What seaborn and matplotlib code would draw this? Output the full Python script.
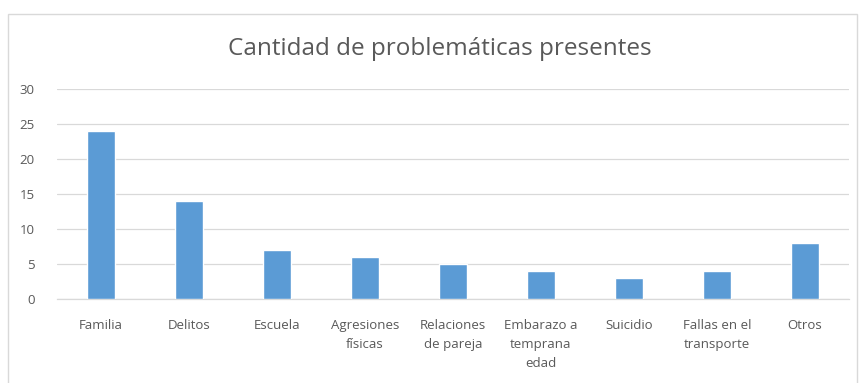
import matplotlib
matplotlib.use("Agg")
import matplotlib.pyplot as plt
import seaborn as sns
import pandas as pd
from matplotlib.patches import Rectangle

categorias = ["Familia", "Delitos", "Escuela", "Agresiones\nfísicas",
              "Relaciones\nde pareja", "Embarazo a\ntemprana\nedad",
              "Suicidio", "Fallas en el\ntransporte", "Otros"]
cantidades = [24, 14, 7, 6, 5, 4, 3, 4, 8]
yticks = [0, 5, 10, 15, 20, 25, 30]

sns.set_theme(style="white")
plt.rcParams["font.family"] = ["Open Sans", "DejaVu Sans"]

df = pd.DataFrame({"categoria": categorias, "cantidad": cantidades})

fig = plt.figure(figsize=(8.6, 3.83), dpi=100)
ax = fig.add_axes([57 / 860, 1 - 299 / 383, 792 / 860, 210 / 383])

sns.barplot(data=df, x="categoria", y="cantidad", color="#5B9BD5",
            saturation=1, width=0.32, ax=ax, zorder=3)

ax.set_ylim(0, 30)
ax.set_yticks(yticks)
ax.set_xlim(-0.5, len(categorias) - 0.5)
ax.yaxis.grid(True, color="#D9D9D9", linewidth=0.9, zorder=0)
ax.set_axisbelow(True)
for s in ["top", "right", "left"]:
    ax.spines[s].set_visible(False)
ax.spines["bottom"].set_color("#D9D9D9")
ax.spines["bottom"].set_linewidth(0.9)
ax.tick_params(axis="both", length=0, colors="#595959", labelsize=9.5)
ax.tick_params(axis="x", pad=14.5)
ax.tick_params(axis="y", pad=16)
ax.set_xlabel("")
ax.set_ylabel("")
for lbl in ax.get_xticklabels():
    lbl.set_linespacing(1.6)
    lbl.set_verticalalignment("top")

fig.text(440 / 860, 1 - 49 / 383, "Cantidad de problemáticas presentes",
         ha="center", va="center", fontsize=17.5, color="#595959")

# chart area frame
fig.patches.append(Rectangle((8 / 860, -0.05), 849 / 860, 1 - 14 / 383 + 0.05,
                             transform=fig.transFigure, fill=False,
                             edgecolor="#D9D9D9", linewidth=1))

fig.savefig("out.png", dpi=100, facecolor="white")
